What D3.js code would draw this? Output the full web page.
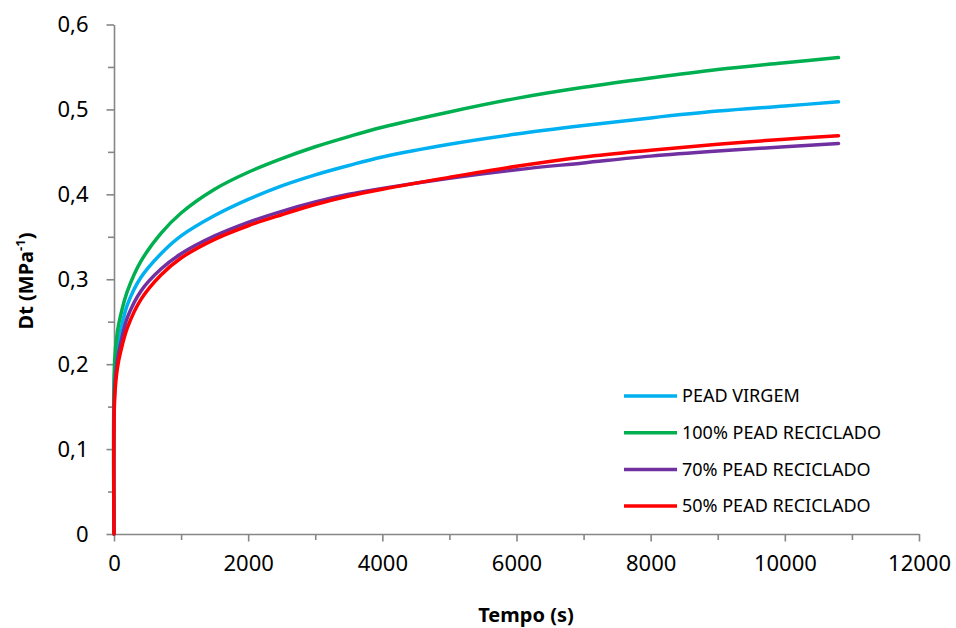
<!DOCTYPE html>
<html lang="pt">
<head>
  <meta charset="UTF-8" />
  <title>Dt x Tempo</title>
  <script src="https://d3js.org/d3.v7.min.js"></script>
  <style>
    body { margin: 0; background: #fff; }
    svg { display: block; font-family: "Noto Sans", sans-serif; }
    .axis path, .axis line { stroke: #868686; stroke-width: 1.6px; }
    .axis text { fill: #000; font-size: 22px; font-family: "Noto Sans", sans-serif; }
    .title { font-weight: bold; font-size: 20px; }
    .legend text { font-size: 18px; }
  </style>
</head>
<body>
  <svg width="956" height="628"></svg>

  <script>
    // time points (s)
    const tempo = [0, 10, 50, 100, 200, 400, 700, 1000, 1500, 2000, 2500, 3000, 3500, 4000, 5000, 6000, 7000, 8000, 9000, 10000, 10800];

    const virgem = [0, 0.19, 0.22, 0.24, 0.270, 0.302, 0.330, 0.351, 0.375, 0.394, 0.410, 0.423, 0.434, 0.444, 0.459, 0.471, 0.481, 0.490, 0.498, 0.504, 0.509];
    const rec100 = [0, 0.205, 0.238, 0.258, 0.286, 0.321, 0.354, 0.378, 0.406, 0.426, 0.442, 0.456, 0.468, 0.479, 0.497, 0.513, 0.526, 0.537, 0.547, 0.555, 0.561];
    const rec70  = [0, 0.17, 0.205, 0.225, 0.255, 0.286, 0.312, 0.330, 0.351, 0.367, 0.380, 0.391, 0.400, 0.407, 0.419, 0.429, 0.437, 0.445, 0.451, 0.456, 0.460];
    const rec50  = [0, 0.16, 0.195, 0.215, 0.243, 0.276, 0.305, 0.325, 0.347, 0.363, 0.376, 0.388, 0.398, 0.406, 0.420, 0.433, 0.444, 0.452, 0.459, 0.465, 0.469];

    const seriesNames  = ["PEAD VIRGEM", "100% PEAD RECICLADO", "70% PEAD RECICLADO", "50% PEAD RECICLADO"];
    const seriesValues = [virgem, rec100, rec70, rec50];
    const seriesColors = ["#00b0f0", "#00b050", "#7030a0", "#ff0000"];

    const xTicks = [0, 2000, 4000, 6000, 8000, 10000, 12000];
    const yTicks = [0, 0.1, 0.2, 0.3, 0.4, 0.5, 0.6];

    const svg = d3.select("svg");
    const plotLeft = 114, plotRight = 919, plotTop = 24.5, plotBottom = 534;

    const x = d3.scaleLinear().domain([0, 12000]).range([plotLeft, plotRight]);
    const y = d3.scaleLinear().domain([0, 0.6]).range([plotBottom, plotTop]);

    // minor ticks first (shorter)
    svg.append("g")
      .attr("class", "axis")
      .attr("transform", `translate(0,${plotBottom})`)
      .call(d3.axisBottom(x).tickValues(d3.range(1000, 12000, 2000)).tickSize(6).tickFormat(""))
      .call(g => g.select(".domain").remove());

    svg.append("g")
      .attr("class", "axis")
      .attr("transform", `translate(${plotLeft},0)`)
      .call(d3.axisLeft(y).tickValues(d3.range(0.05, 0.6, 0.1)).tickSize(6).tickFormat(""))
      .call(g => g.select(".domain").remove());

    svg.append("g")
      .attr("class", "axis")
      .attr("transform", `translate(0,${plotBottom})`)
      .call(d3.axisBottom(x).tickValues(xTicks).tickSize(7.5).tickSizeOuter(0).tickPadding(14).tickFormat(d3.format("d")));

    svg.append("g")
      .attr("class", "axis")
      .attr("transform", `translate(${plotLeft},0)`)
      .call(d3.axisLeft(y).tickValues(yTicks).tickSize(7.5).tickSizeOuter(0).tickPadding(18)
        .tickFormat(d => d === 0 ? "0" : d3.format(".1f")(d).replace(".", ",")));

    // axis titles
    svg.append("text")
      .attr("class", "title")
      .attr("x", 526).attr("y", 622)
      .attr("text-anchor", "middle")
      .text("Tempo (s)");

    const yt = svg.append("text")
      .attr("class", "title")
      .attr("transform", "translate(33,281) rotate(-90)")
      .attr("text-anchor", "middle");
    yt.append("tspan").text("Dt (MPa");
    yt.append("tspan").attr("dy", -8).attr("font-size", 13).text("-1");
    yt.append("tspan").attr("dy", 8).text(")");

    // curves
    const line = d3.line()
      .x(d => x(d[0]))
      .y(d => y(d[1]))
      .curve(d3.curveCatmullRom.alpha(0.5));

    seriesValues.forEach((vals, i) => {
      svg.append("path")
        .datum(tempo.map((t, j) => [t, vals[j]]))
        .attr("fill", "none")
        .attr("stroke", seriesColors[i])
        .attr("stroke-width", 3.5)
        .attr("stroke-linejoin", "round")
        .attr("stroke-linecap", "round")
        .attr("d", line);
    });

    // legend
    const legend = svg.append("g").attr("class", "legend");
    seriesNames.forEach((name, i) => {
      const ly = 396 + i * 36.7;
      legend.append("line")
        .attr("x1", 624).attr("x2", 677)
        .attr("y1", ly).attr("y2", ly)
        .attr("stroke", seriesColors[i])
        .attr("stroke-width", 3.5);
      legend.append("text")
        .attr("x", 682).attr("y", ly)
        .attr("dy", "0.35em")
        .text(name);
    });
  </script>
</body>
</html>
